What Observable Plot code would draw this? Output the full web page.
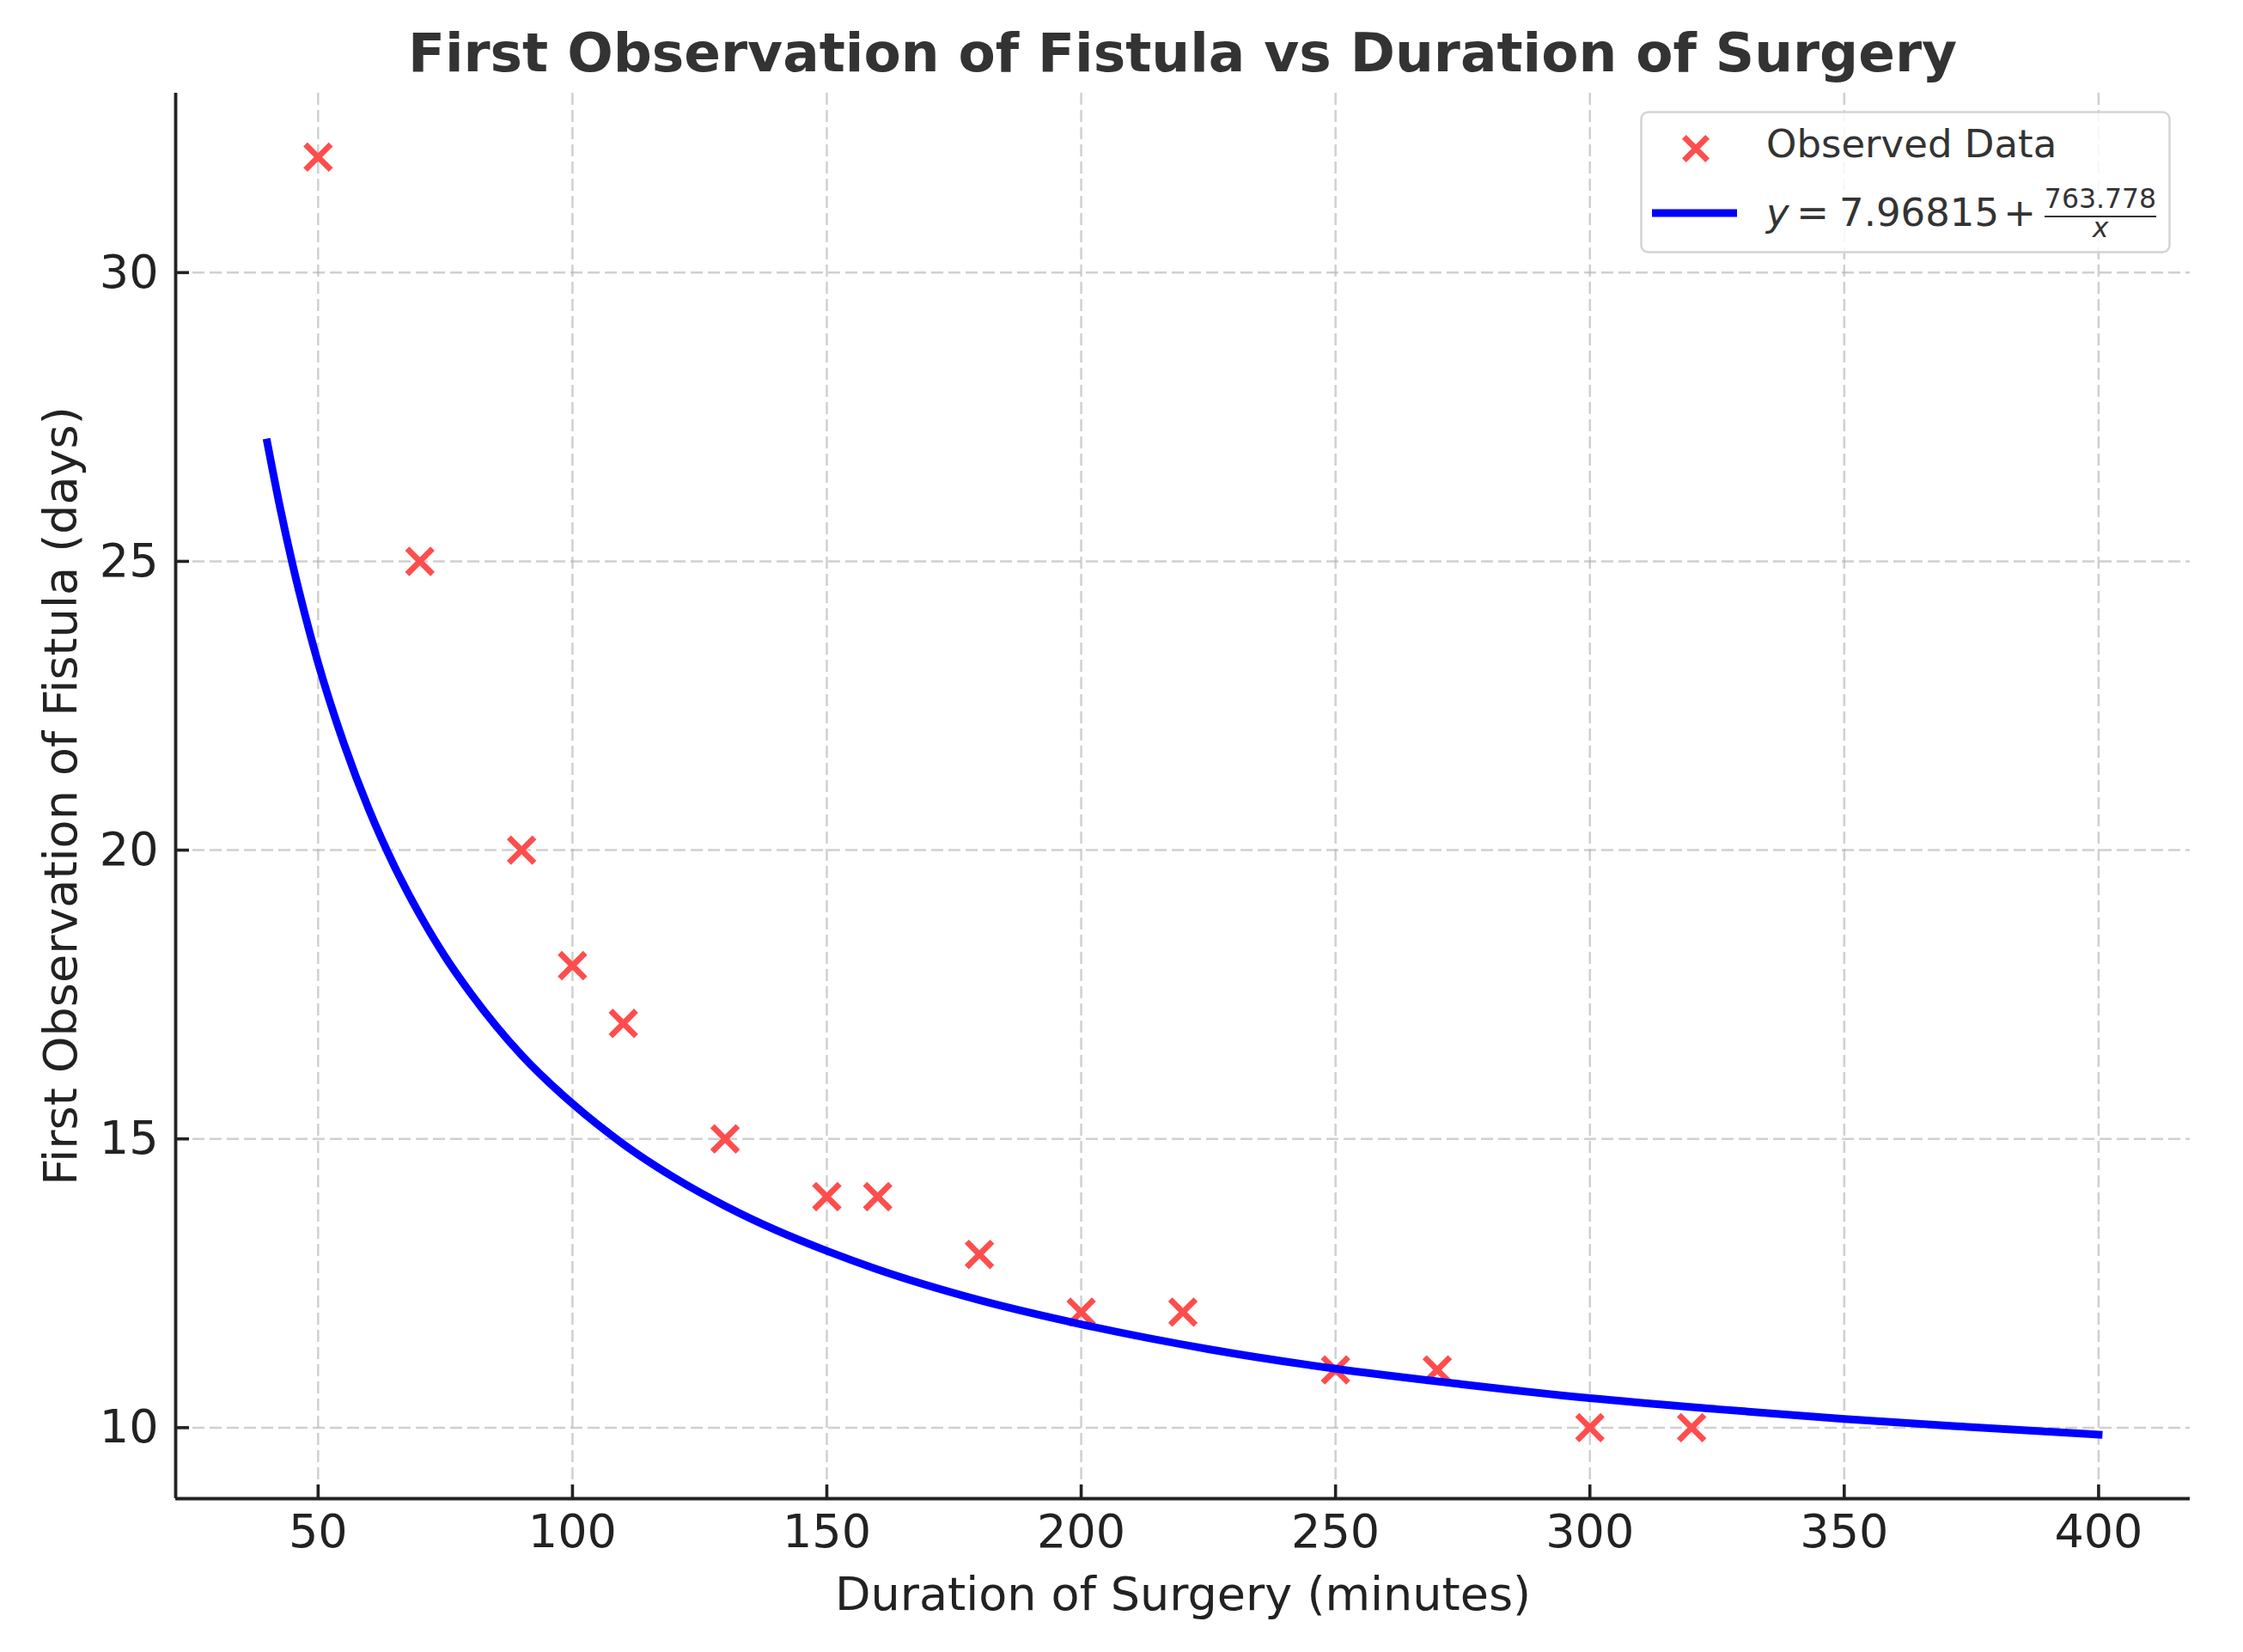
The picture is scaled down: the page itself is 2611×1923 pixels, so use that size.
<!DOCTYPE html>
<html><head><meta charset="utf-8">
<script src="https://cdn.jsdelivr.net/npm/d3@7"></script>
<script src="https://cdn.jsdelivr.net/npm/@observablehq/plot@0.6"></script>
<style>
html,body{margin:0;padding:0;background:#fff;}
#wrap{position:relative;width:2611px;height:1923px;overflow:hidden;font-family:"DejaVu Sans";}
#title{height:100px;position:relative;}
#title span{position:absolute;top:30px;left:204px;width:2345px;text-align:center;font-size:63px;font-weight:bold;line-height:1;color:#333;white-space:nowrap;}
#legend{position:absolute;left:1909px;top:129px;}
</style></head><body>
<div id="wrap">
<div id="title"><span>First Observation of Fistula vs Duration of Surgery</span></div>
<div id="chart"></div>
<svg id="legend" width="618" height="166" font-family="DejaVu Sans">
  <rect x="1.5" y="1.5" width="615" height="163" rx="8" ry="8" fill="#fff" fill-opacity="0.85" stroke="#d4d4d4" stroke-width="2.5"></rect>
  <path d="M51.4,30.4L78.6,57.6M78.6,30.4L51.4,57.6" stroke="#ff4d4d" stroke-width="6.8" fill="none"></path>
  <text x="147" y="54" font-size="45" fill="#333">Observed Data</text>
  <line x1="14" y1="119" x2="113" y2="119" stroke="#0000ff" stroke-width="9"></line>
  <text x="147" y="134" font-size="45" fill="#333" font-style="italic">y</text>
  <text x="201" y="134" font-size="45" fill="#333" text-anchor="middle">=</text>
  <text x="232" y="134" font-size="45" fill="#333">7.96815</text>
  <text x="442" y="134" font-size="45" fill="#333" text-anchor="middle">+</text>
  <text x="536" y="113" font-size="31.5" fill="#333" text-anchor="middle">763.778</text>
  <line x1="471" y1="123" x2="601" y2="123" stroke="#333" stroke-width="2"></line>
  <text x="536" y="147" font-size="31.5" fill="#333" text-anchor="middle" font-style="italic">x</text>
</svg>
</div>
<script>
const durations = [50, 70, 90, 100, 110, 130, 150, 160, 180, 200, 220, 250, 270, 300, 320];
const firstObs  = [32, 25, 20, 18, 17, 15, 14, 14, 13, 12, 12, 11, 11, 10, 10];
const fitX = [40, 42.5, 45, 47.5, 50, 55, 60, 65, 70, 75, 80, 90, 100, 110, 120, 130, 140, 150, 160, 180, 200, 225, 250, 275, 300, 325, 350, 375, 400];
const fitY = [27.06, 25.94, 24.94, 24.05, 23.24, 21.86, 20.70, 19.72, 18.88, 18.15, 17.52, 16.45, 15.61, 14.91, 14.33, 13.84, 13.42, 13.06, 12.74, 12.21, 11.79, 11.36, 11.02, 10.75, 10.51, 10.32, 10.15, 10.01, 9.88];
const xTicks = [50, 100, 150, 200, 250, 300, 350, 400];
const yTicks = [10, 15, 20, 25, 30];
const xDomain = [22, 418];
const yDomain = [8.771, 33.106];

const points = durations.map((d, i) => ({x: d, y: firstObs[i]}));
const fit = fitX.map((d, i) => ({x: d, y: fitY[i]}));

const gridStyle = {stroke: "#b0b0b0", strokeOpacity: 0.6, strokeWidth: 2.5, strokeDasharray: "14,6"};

const chart = Plot.plot({
  width: 2611, height: 1823,
  marginTop: 8, marginBottom: 179, marginLeft: 204, marginRight: 62,
  style: {fontFamily: "DejaVu Sans", background: "#fff", color: "#222", overflow: "visible"},
  x: {domain: xDomain},
  y: {domain: yDomain},
  marks: [
    Plot.gridX(xTicks, gridStyle),
    Plot.gridY(yTicks, gridStyle),
    Plot.dot(points, {x: "x", y: "y", symbol: "times", r: 13.5, stroke: "#ff4d4d", strokeWidth: 6.8}),
    Plot.line(fit, {x: "x", y: "y", stroke: "#0000ff", strokeWidth: 9, curve: "monotone-x", strokeLinecap: "square"}),
    Plot.ruleX([xDomain[0]], {stroke: "#222", strokeWidth: 3.8}),
    Plot.ruleY([yDomain[0]], {stroke: "#222", strokeWidth: 3.8}),
    Plot.axisX(xTicks, {tickSize: -16, tickPadding: 34, strokeWidth: 3.6, stroke: "#222", fontSize: 54, fill: "#222",
      tickFormat: d => String(d),
      label: "Duration of Surgery (minutes)", labelAnchor: "center", labelOffset: 129, labelArrow: "none"}),
    Plot.axisY(yTicks, {tickSize: -16, tickPadding: 36, strokeWidth: 3.6, stroke: "#222", fontSize: 54, fill: "#222",
      tickFormat: d => String(d),
      label: "First Observation of Fistula (days)", labelAnchor: "center", labelOffset: 154, labelArrow: "none"})
  ]
});
document.getElementById("chart").appendChild(chart);
</script>
</body></html>
